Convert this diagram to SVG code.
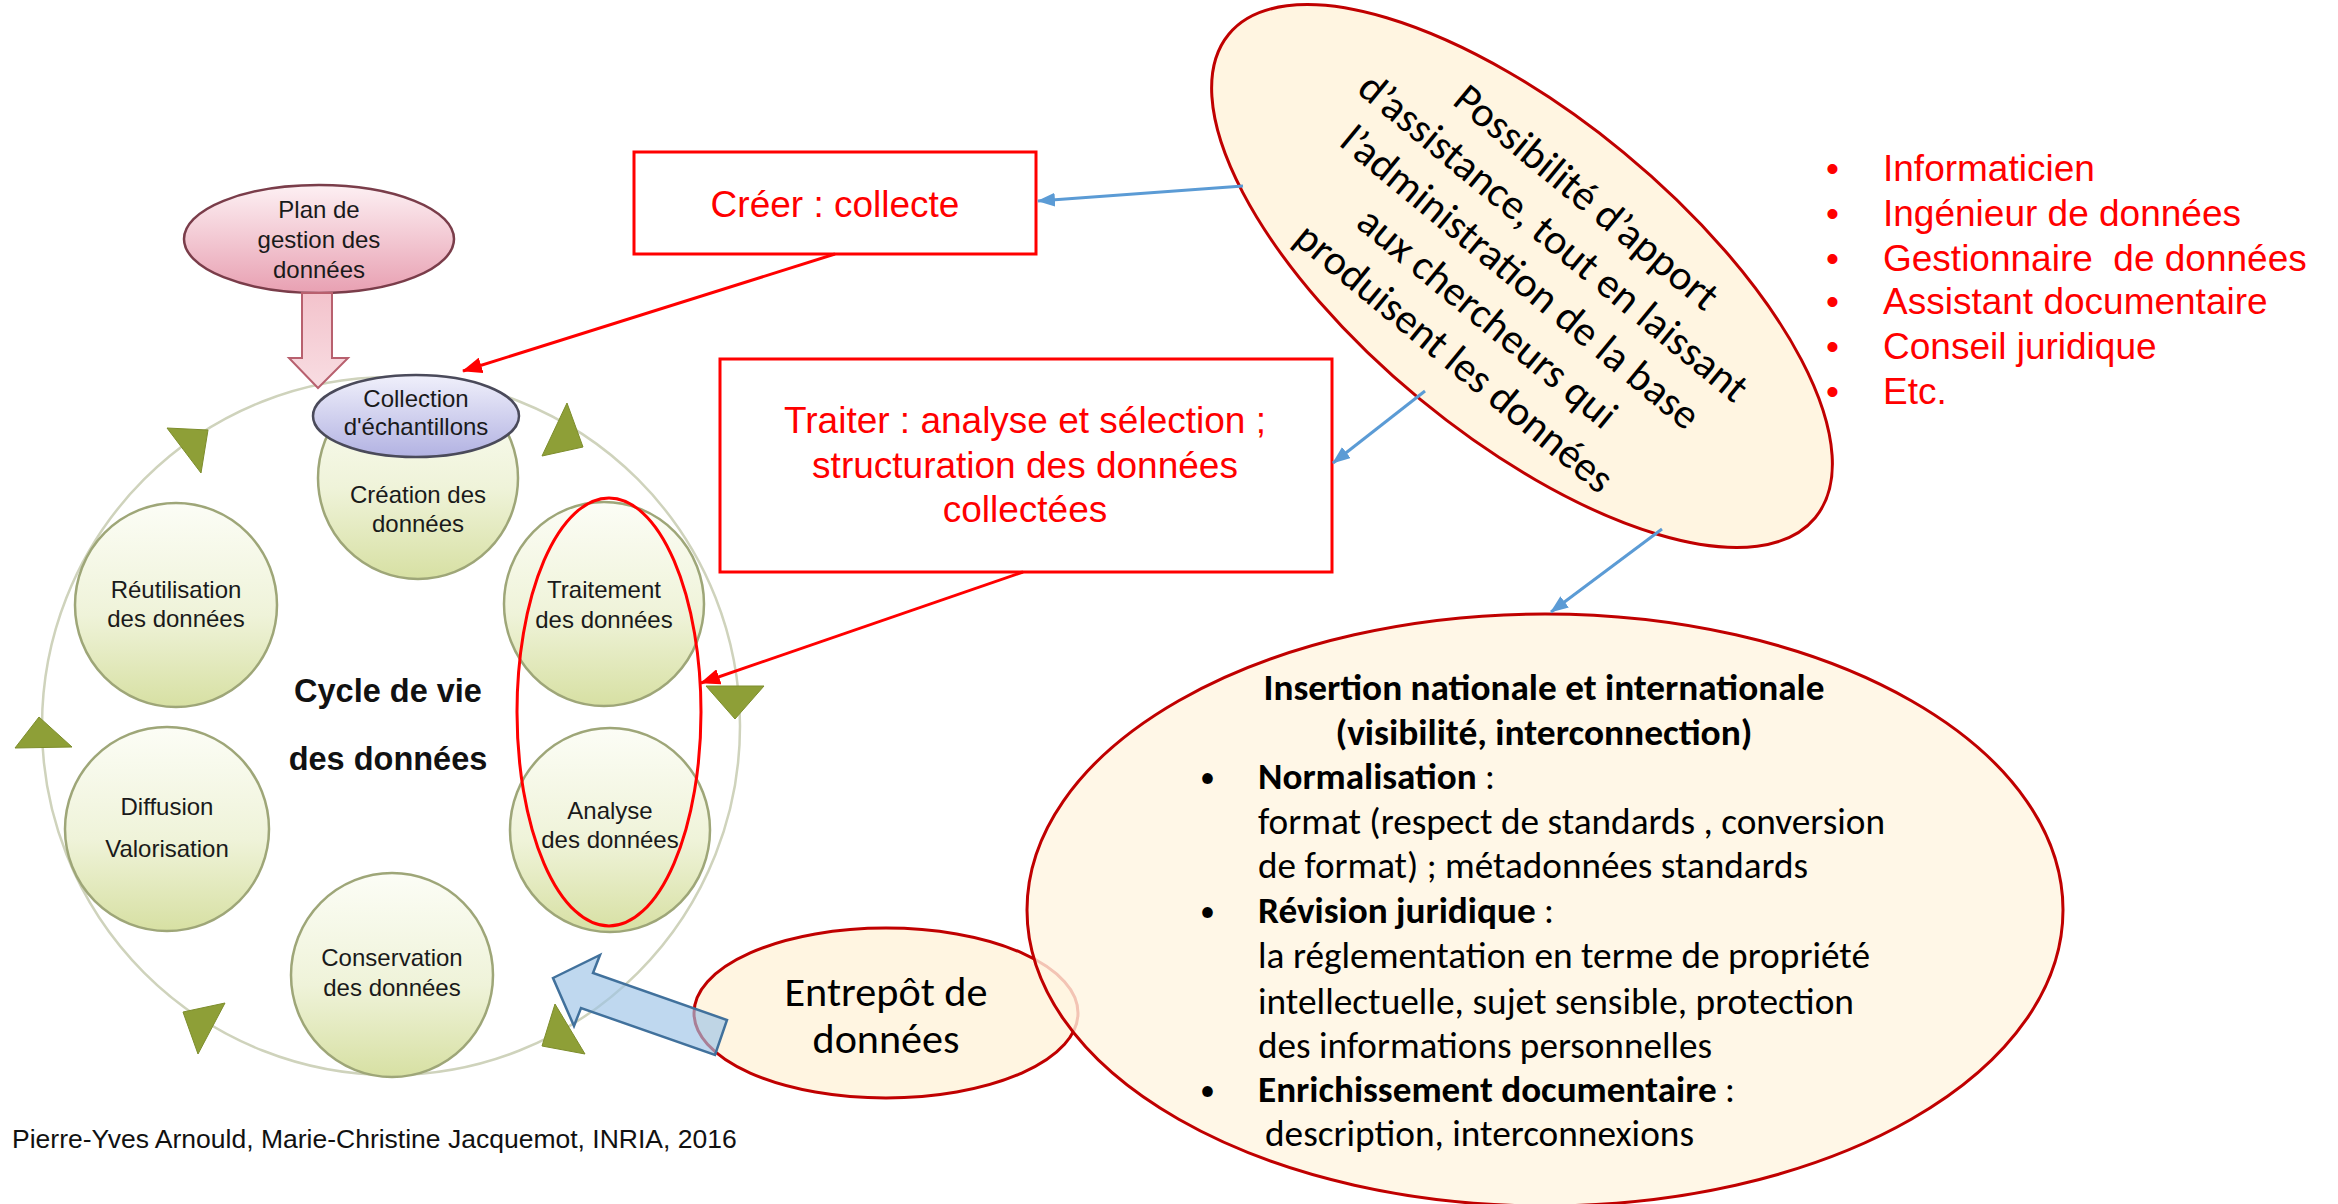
<svg xmlns="http://www.w3.org/2000/svg" width="2338" height="1204" viewBox="0 0 2338 1204">
<style>
.arial{font-family:"Liberation Sans",Arial,sans-serif}
.cal{font-family:Carlito,Lato,"Open Sans",sans-serif}
.lbl{font-family:"Liberation Sans",Arial,sans-serif;font-size:24px;fill:#1a1a1a;text-anchor:middle}
.small{fill:url(#circFill);stroke:#9ea678;stroke-width:2.5}
.tri{fill:#8e9f37;stroke:#7d8d2c;stroke-width:1}
.redtxt{font-family:"Liberation Sans",Arial,sans-serif;font-size:37px;fill:#ff0000;text-anchor:middle}
.box{fill:#ffffff;stroke:#ff0000;stroke-width:3}
.cream{fill:#fff5e1;stroke:#c00000;stroke-width:3}
.redln{stroke:#ff0000;stroke-width:3;fill:none}
.blueln{stroke:#5b9bd5;stroke-width:3;fill:none}
.rot{font-size:42px;fill:#000;text-anchor:middle}
.bt{font-size:37px;fill:#000}
.dot{font-size:30px;fill:#000}
.li{font-family:"Liberation Sans",Arial,sans-serif;font-size:37px;fill:#ff0000}
</style>
<defs>
<linearGradient id="circFill" x1="0" y1="0" x2="0" y2="1">
<stop offset="0" stop-color="#fcfdf6"/>
<stop offset="0.55" stop-color="#eff3d9"/>
<stop offset="1" stop-color="#d7e0a3"/>
</linearGradient>
<linearGradient id="pinkFill" x1="0" y1="0" x2="0" y2="1">
<stop offset="0" stop-color="#fdf0f3"/>
<stop offset="1" stop-color="#e8a0b2"/>
</linearGradient>
<linearGradient id="pinkArrow" x1="0" y1="0" x2="0" y2="1">
<stop offset="0" stop-color="#f3c3cc"/>
<stop offset="1" stop-color="#f8dde2"/>
</linearGradient>
<linearGradient id="lavFill" x1="0" y1="0" x2="0" y2="1">
<stop offset="0" stop-color="#f0f0fb"/>
<stop offset="1" stop-color="#b2b2e2"/>
</linearGradient>
<marker id="redHead" markerUnits="userSpaceOnUse" markerWidth="20" markerHeight="16" refX="19" refY="8" orient="auto">
<path d="M0,0 L20,8 L0,16 z" fill="#ff0000"/>
</marker>
<marker id="blueHead" markerUnits="userSpaceOnUse" markerWidth="18" markerHeight="14" refX="17" refY="7" orient="auto">
<path d="M0,0 L18,7 L0,14 z" fill="#5b9bd5"/>
</marker>
</defs>
<rect width="2338" height="1204" fill="#ffffff"/>

<g id="cycle">
<circle cx="391" cy="726" r="349" fill="none" stroke="#cfd3bc" stroke-width="2.5"/>
<polygon class="tri" points="167,428 208,430 201,473"/>
<polygon class="tri" points="567,403 583,447 542,456"/>
<polygon class="tri" points="706,686 764,686 735,719"/>
<polygon class="tri" points="15,748 72,747 39,717"/>
<polygon class="tri" points="183,1012 225,1003 198,1054"/>
<polygon class="tri" points="555,1004 585,1054 542,1046"/>
<text class="arial" x="388" y="702" font-size="32.5" font-weight="bold" fill="#111" text-anchor="middle">Cycle de vie</text>
<text class="arial" x="388" y="770" font-size="32.5" font-weight="bold" fill="#111" text-anchor="middle">des données</text>
</g>

<g id="creation">
<ellipse class="small" cx="418" cy="478" rx="100" ry="101"/>
<text class="lbl" x="418" y="503">Création des</text>
<text class="lbl" x="418" y="532">données</text>
</g>

<g id="collection">
<ellipse cx="416" cy="416" rx="103" ry="41" fill="url(#lavFill)" stroke="#4a4a5a" stroke-width="2.5"/>
<text class="lbl" x="416" y="407" font-size="22">Collection</text>
<text class="lbl" x="416" y="435" font-size="22">d'échantillons</text>
</g>

<g id="reutilisation">
<ellipse class="small" cx="176" cy="605" rx="101" ry="102"/>
<text class="lbl" x="176" y="598">Réutilisation</text>
<text class="lbl" x="176" y="627">des données</text>
</g>

<g id="traitement">
<ellipse class="small" cx="604" cy="604" rx="100" ry="102"/>
<text class="lbl" x="604" y="598">Traitement</text>
<text class="lbl" x="604" y="628">des données</text>
</g>

<g id="diffusion">
<ellipse class="small" cx="167" cy="829" rx="102" ry="102"/>
<text class="lbl" x="167" y="815">Diffusion</text>
<text class="lbl" x="167" y="857">Valorisation</text>
</g>

<g id="analyse">
<ellipse class="small" cx="610" cy="830" rx="100" ry="102"/>
<text class="lbl" x="610" y="819">Analyse</text>
<text class="lbl" x="610" y="848">des données</text>
</g>

<g id="conservation">
<ellipse class="small" cx="392" cy="975" rx="101" ry="102"/>
<text class="lbl" x="392" y="966">Conservation</text>
<text class="lbl" x="392" y="996">des données</text>
</g>

<g id="plan">
<ellipse cx="319" cy="239" rx="135" ry="54" fill="url(#pinkFill)" stroke="#7a3d4a" stroke-width="2.5"/>
<text class="lbl" x="319" y="218" font-size="25">Plan de</text>
<text class="lbl" x="319" y="248" font-size="25">gestion des</text>
<text class="lbl" x="319" y="278" font-size="25">données</text>
</g>

<g id="highlight">
<ellipse cx="609" cy="712" rx="92" ry="214" fill="none" stroke="#ff0000" stroke-width="3"/>
</g>

<g id="creer">
<rect class="box" x="634" y="152" width="402" height="102"/>
<text class="redtxt" x="835" y="217">Créer : collecte</text>
</g>

<g id="traiter">
<rect class="box" x="720" y="359" width="612" height="213"/>
<text class="redtxt" x="1025" y="433">Traiter : analyse et sélection ;</text>
<text class="redtxt" x="1025" y="478">structuration des données</text>
<text class="redtxt" x="1025" y="522">collectées</text>
</g>

<g id="possibilite">
<ellipse class="cream" cx="0" cy="0" rx="380" ry="160" transform="translate(1522,276) rotate(39.5)"/>
<g class="cal" transform="translate(1520,278) rotate(39.5)">
<text class="rot" x="0" y="-91" textLength="329" lengthAdjust="spacingAndGlyphs">Possibilité d’apport</text>
<text class="rot" x="0" y="-39" textLength="491" lengthAdjust="spacingAndGlyphs">d’assistance, tout en laissant</text>
<text class="rot" x="0" y="13" textLength="451" lengthAdjust="spacingAndGlyphs">l’administration de la base</text>
<text class="rot" x="0" y="65" textLength="322" lengthAdjust="spacingAndGlyphs">aux chercheurs qui</text>
<text class="rot" x="0" y="117" textLength="398" lengthAdjust="spacingAndGlyphs">produisent les données</text>
</g>
</g>

<g id="roles">
<text class="li" x="1826" y="181">•</text><text class="li" x="1883" y="181">Informaticien</text>
<text class="li" x="1826" y="226">•</text><text class="li" x="1883" y="226">Ingénieur de données</text>
<text class="li" x="1826" y="271">•</text><text class="li" x="1883" y="271" style="white-space:pre" xml:space="preserve">Gestionnaire  de données</text>
<text class="li" x="1826" y="314">•</text><text class="li" x="1883" y="314">Assistant documentaire</text>
<text class="li" x="1826" y="359">•</text><text class="li" x="1883" y="359">Conseil juridique</text>
<text class="li" x="1826" y="404">•</text><text class="li" x="1883" y="404">Etc.</text>
</g>

<g id="entrepot">
<ellipse class="cream" cx="886" cy="1013" rx="192" ry="85"/>
<text class="cal" x="886" y="1006" font-size="42" fill="#000" text-anchor="middle" textLength="203" lengthAdjust="spacingAndGlyphs">Entrepôt de</text>
<text class="cal" x="886" y="1053" font-size="42" fill="#000" text-anchor="middle" textLength="147" lengthAdjust="spacingAndGlyphs">données</text>
</g>

<g id="insertion">
<ellipse cx="1545" cy="910" rx="518" ry="296" fill="#fff5e1" fill-opacity="0.8" stroke="#c00000" stroke-width="3"/>
<g class="cal">
<text class="bt" x="1544" y="700" font-weight="bold" text-anchor="middle" textLength="561" lengthAdjust="spacingAndGlyphs">Insertion nationale et internationale</text>
<text class="bt" x="1544" y="745" font-weight="bold" text-anchor="middle" textLength="417" lengthAdjust="spacingAndGlyphs">(visibilité, interconnection)</text>
<text class="dot" x="1200" y="787">•</text>
<text class="bt" x="1258" y="789" textLength="237" lengthAdjust="spacingAndGlyphs"><tspan font-weight="bold">Normalisation</tspan> :</text>
<text class="bt" x="1258" y="834" textLength="627" lengthAdjust="spacingAndGlyphs">format (respect de standards , conversion</text>
<text class="bt" x="1258" y="878" textLength="550" lengthAdjust="spacingAndGlyphs">de format) ; métadonnées standards</text>
<text class="dot" x="1200" y="921">•</text>
<text class="bt" x="1258" y="923" textLength="296" lengthAdjust="spacingAndGlyphs"><tspan font-weight="bold">Révision juridique</tspan> :</text>
<text class="bt" x="1258" y="968" textLength="612" lengthAdjust="spacingAndGlyphs">la réglementation en terme de propriété</text>
<text class="bt" x="1258" y="1014" textLength="596" lengthAdjust="spacingAndGlyphs">intellectuelle, sujet sensible, protection</text>
<text class="bt" x="1258" y="1058" textLength="454" lengthAdjust="spacingAndGlyphs">des informations personnelles</text>
<text class="dot" x="1200" y="1100">•</text>
<text class="bt" x="1258" y="1102" textLength="477" lengthAdjust="spacingAndGlyphs"><tspan font-weight="bold">Enrichissement documentaire</tspan> :</text>
<text class="bt" x="1265" y="1146" textLength="429" lengthAdjust="spacingAndGlyphs">description, interconnexions</text>
</g>
</g>

<g id="credit">
<text class="arial" x="12" y="1148" font-size="26.5" fill="#111">Pierre-Yves Arnould, Marie-Christine Jacquemot, INRIA, 2016</text>
</g>

<g id="connectors">
<polygon points="302,293 332,293 332,358 348,358 318,388 289,358 302,358" fill="url(#pinkArrow)" stroke="#b8606e" stroke-width="2"/>
<polygon points="553,978 600,955 593,973 727,1020 715,1055 581,1008 574,1026" fill="#9dc3e6" fill-opacity="0.65" stroke="#41719c" stroke-width="2.5"/>
<line class="redln" x1="835" y1="254" x2="463" y2="371" marker-end="url(#redHead)"/>
<line class="redln" x1="1023" y1="572" x2="701" y2="683" marker-end="url(#redHead)"/>
<line class="blueln" x1="1243" y1="186" x2="1038" y2="201" marker-end="url(#blueHead)"/>
<line class="blueln" x1="1425" y1="391" x2="1333" y2="463" marker-end="url(#blueHead)"/>
<line class="blueln" x1="1662" y1="529" x2="1551" y2="612" marker-end="url(#blueHead)"/>
</g>
</svg>
